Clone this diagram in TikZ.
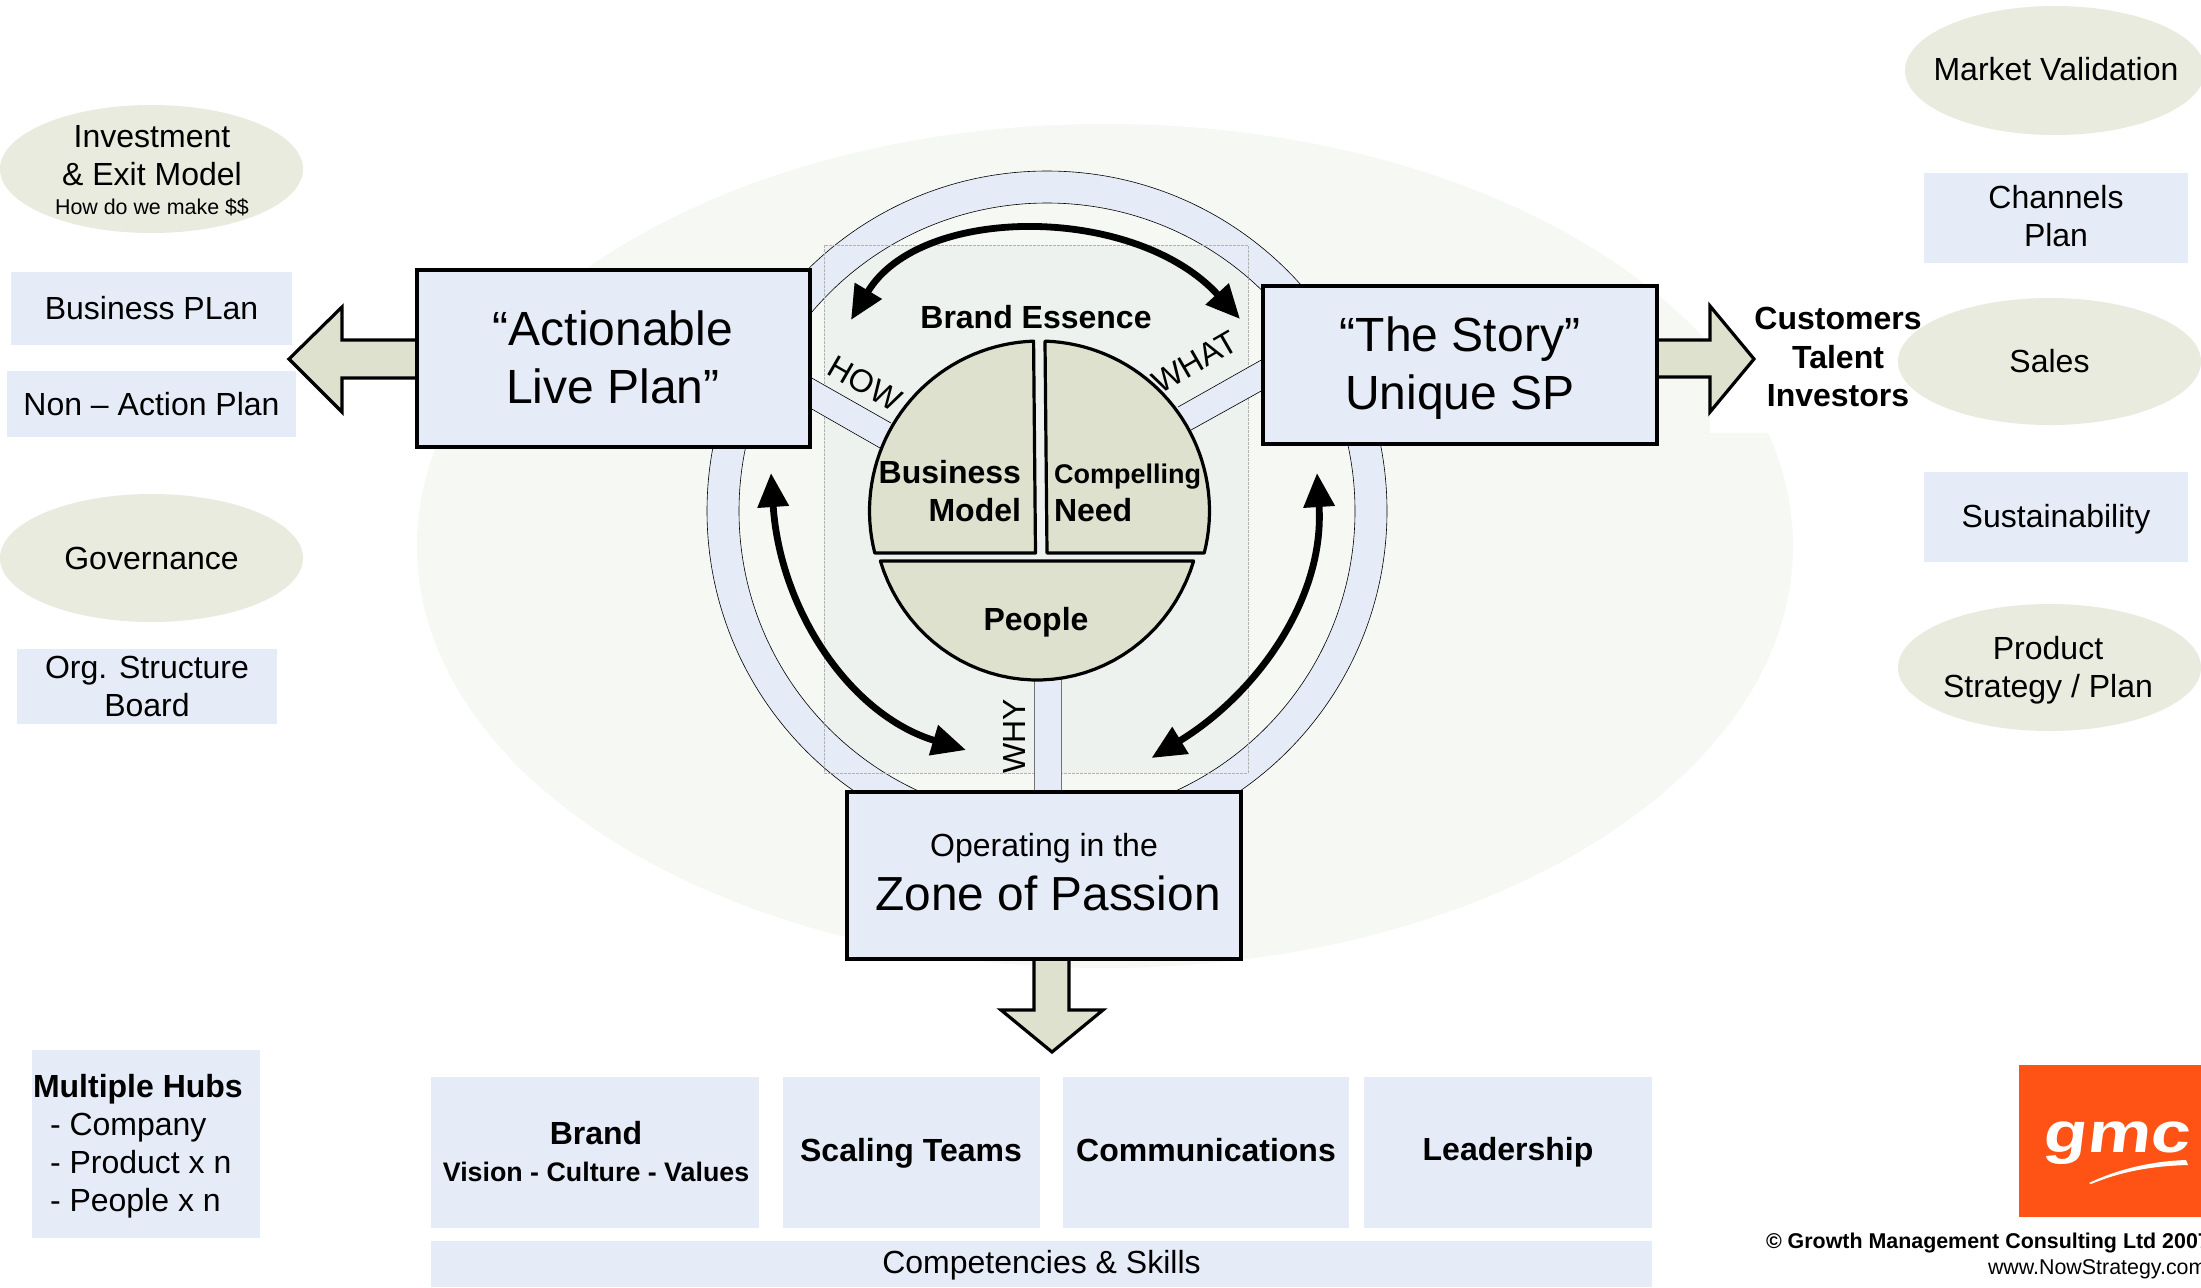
\documentclass[tikz,border=0pt]{standalone}
\usepackage{fontspec}
\setmainfont{Liberation Sans}
\newfontfamily\logofont[FakeStretch=1.25,FakeSlant=0.12]{Liberation Sans}
\usetikzlibrary{shapes.geometric,arrows.meta}
\definecolor{paleblue}{HTML}{E6ECF7}
\definecolor{sage}{HTML}{DDE1CD}
\definecolor{paleoval}{HTML}{E8EBDE}
\definecolor{backoval}{HTML}{F6F8F3}
\definecolor{backrect}{HTML}{EEF2EE}
\definecolor{logoorange}{HTML}{FF5215}
\newcommand\fs[2]{\fontsize{#1}{#2}\selectfont}
\tikzset{
  x=0.5pt,y=-0.5pt,
  span/.code n args={4}{%
    \pgfmathsetmacro\spanw{(#3-#1)*0.5}%
    \pgfmathsetmacro\spanh{(#4-#2)*0.5}%
    \pgfmathsetmacro\spanx{(#1+#3)/2}%
    \pgfmathsetmacro\spany{(#2+#4)/2}%
    \tikzset{at={(\spanx,\spany)},minimum width=\spanw pt,minimum height=\spanh pt}},
  flat/.style={fill=paleblue,draw=none,inner sep=0pt,outer sep=0pt,align=center,font=\fs{16}{19}},
  oval/.style={ellipse,fill=paleoval,draw=none,inner sep=0pt,outer sep=0pt,align=center,font=\fs{16}{19}},
  bigbox/.style={fill=paleblue,draw=black,line width=1.6pt,inner sep=0pt,outer sep=0pt,align=center},
  blockarrow/.style={fill=sage,draw=black,line width=1.6pt,line join=miter},
  pieslice/.style={fill=sage,draw=black,line width=1.6pt,line join=round},
  thinline/.style={draw=black,line width=0.3pt},
  swing/.style={draw=black,line width=3.4pt,{Triangle[length=17pt,width=15pt]}-{Triangle[length=17pt,width=15pt]}},
  label/.style={inner sep=0pt,outer sep=0pt,align=center},
}
\begin{document}
\begin{tikzpicture}
\useasboundingbox (0,0) rectangle (2201,1287);
\fill[white] (0,0) rectangle (2201,1287);
% background
\fill[backoval] (1105,546) ellipse [x radius=688, y radius=422];
\fill[white] (1710,200) rectangle (1900,433);
\fill[backrect] (824,245) rectangle (1248,773);
% ring
\fill[paleblue,even odd rule] (1047,511) circle [radius=340] (1047,511) circle [radius=308];
\draw[thinline] (1047,511) circle [radius=340];
\draw[thinline] (1047,511) circle [radius=308];
\draw[black!30,line width=0.4pt,dash pattern=on 1.5pt off 0.5pt] (824,245) rectangle (1248,773);
% spokes
\fill[paleblue] (810,377) -- (891,423) -- (880,448) -- (810,408) -- cycle;
\draw[thinline] (810,377) -- (891,423) (810,408) -- (880,448);
\fill[paleblue] (1263,359) -- (1178,407) -- (1191,430) -- (1263,390) -- cycle;
\draw[thinline] (1263,359) -- (1178,407) (1263,390) -- (1191,430);
\fill[paleblue] (1034,670) rectangle (1061,792);
\draw[draw=black!55,line width=0.5pt] (1034,670) -- (1034,792) (1061,670) -- (1061,792);
% pie
\draw[pieslice] (1035.5,553) -- (875,553) -- plot[domain=165.7:268,samples=40] ({1039.5+170*cos(\x)},{511+170*sin(\x)}) -- cycle;
\draw[pieslice] (1047,553) -- (1045,342) -- plot[domain=272:374.3,samples=40] ({1039.5+170*cos(\x)},{511+170*sin(\x)}) -- cycle;
\draw[pieslice] (880.3,561) -- (1193.7,561) -- plot[domain=17.2:162.8,samples=40] ({1037+164*cos(\x)},{511+169*sin(\x)}) -- cycle;
% curved arrows
\coordinate (ta) at (851,320); \coordinate (tb) at (1240,319);
\coordinate (la) at (771,473); \coordinate (lb) at (966,750);
\coordinate (ra) at (1317,473); \coordinate (rb) at (1151.5,758);
\draw[swing] (ta) .. controls (920,204) and (1135,204) .. (tb);
\draw[swing] (la) .. controls (780,610) and (850,715) .. (lb);
\draw[swing] (ra) .. controls (1325,600) and (1255,695) .. (rb);
% block arrows
\draw[blockarrow] (417,340) -- (342,340) -- (342,307) -- (289,359) -- (342,412) -- (342,378) -- (417,378);
\draw[blockarrow] (1657,340) -- (1710,340) -- (1710,306) -- (1754,359) -- (1710,412) -- (1710,377) -- (1657,377);
\draw[blockarrow] (1034,959) -- (1034,1010) -- (1001,1010) -- (1052,1052) -- (1103,1010) -- (1069,1010) -- (1069,959);
% big boxes
\node[bigbox,span={417}{270}{810}{447}] (plan) {};
\node[label,font=\fs{24}{29}] (plantext) at (613,357) {“Actionable\\Live Plan”};
\node[bigbox,span={1263}{286}{1657}{444}] (story) {};
\node[label,font=\fs{24}{29}] (storytext) at (1460,368) {“The Story”\\Unique SP};
\node[bigbox,span={847}{792}{1241}{959}] (zone) {};
\node[label,font=\fs{16}{19}] (operating) at (1044,848) {Operating in the};
\node[label,font=\fs{23.9}{29}] (passion) at (1048,893) {Zone of Passion};
% centre texts
\node[label,font=\bfseries\fs{16}{19}] (essence) at (1036,317) {Brand Essence};
\node[label,anchor=east,align=right,font=\bfseries\fs{16}{19}] (bm) at (1021,491) {Business\\Model};
\node[label,anchor=west,align=left,font=\bfseries\fs{16}{19}] (need) at (1054,493) {{\fs{13.5}{19}\selectfont Compelling}\\Need};
\node[label,font=\bfseries\fs{16}{19}] (people) at (1036,622) {People};
\node[label,font=\fs{16}{19},rotate=-30] (how) at (865,383) {HOW};
\node[label,font=\fs{16}{19},rotate=30] (what) at (1195,362) {WHAT};
\node[label,font=\fs{16}{19},rotate=90] (why) at (1014,736) {WHY};
\node[label,font=\bfseries\fs{16}{19.3}] (aud) at (1838,357) {Customers\\Talent\\Investors};
% left column
\node[oval,span={0}{105}{303}{233}] (invest) {};
\node[label,font=\fs{16}{19}] (investtext) at (152,156) {Investment\\\& Exit Model};
\node[label,font=\fs{10.7}{13}] (makemoney) at (152,207) {How do we make \$\$};
\node[flat,span={11}{272}{292}{345}] (bizplan) {Business PLan};
\node[flat,span={7}{371}{296}{437}] (nonaction) {Non – Action Plan};
\node[oval,span={0}{494}{303}{622}] (gov) {Governance};
\node[flat,span={17}{649}{277}{724}] (org) {Org. Structure\\Board};
% right column
\node[oval,span={1905}{6}{2205}{135}] (market) {};
\node[label,font=\fs{16}{19}] (markettext) at (2056,69) {Market Validation};
\node[flat,span={1924}{173}{2188}{263}] (channels) {};
\node[label,font=\fs{16}{19}] (channelstext) at (2056,216) {Channels\\Plan};
\node[oval,span={1898}{298}{2201}{425}] (sales) {Sales};
\node[flat,span={1924}{472}{2188}{562}] (sustain) {};
\node[label,font=\fs{16}{19}] (sustaintext) at (2056,519) {Sustainability};
\node[oval,span={1898}{604}{2201}{731}] (product) {};
\node[label,font=\fs{16}{19}] (producttext) at (2048,670) {Product\\Strategy / Plan};
% bottom row
\node[flat,span={32}{1050}{260}{1238}] (hubbox) {};
\node[label,anchor=west,align=left,font=\fs{16}{19}] (hubs) at (33,1146) {\textbf{Multiple Hubs}\\\hspace{8.5pt}- Company\\\hspace{8.5pt}- Product x n\\\hspace{8.5pt}- People x n};
\node[flat,span={431}{1077}{759}{1228}] (brand) {};
\node[label,font=\bfseries\fs{16}{18.5}] (brandtext) at (596,1152) {Brand\\{\fs{13.4}{17}\selectfont Vision - Culture - Values}};
\node[flat,span={783}{1077}{1040}{1228}] (teams) {};
\node[label,font=\bfseries\fs{16}{19}] (teamstext) at (911,1153) {Scaling Teams};
\node[flat,span={1063}{1077}{1349}{1228}] (comms) {};
\node[label,font=\bfseries\fs{16}{19}] (commstext) at (1206,1150) {Communications};
\node[flat,span={1364}{1077}{1652}{1228}] (lead) {};
\node[label,font=\bfseries\fs{16}{19}] (leadtext) at (1508,1152) {Leadership};
\node[flat,span={431}{1241}{1652}{1287}] (skills) {};
\node[label,font=\fs{16}{19}] (skillstext) at (1041.5,1265) {Competencies \& Skills};
% logo
\node[fill=logoorange,draw=none,inner sep=0pt,outer sep=0pt,span={2019}{1065}{2201}{1217}] (logo) {};
\node[label,anchor=base,text=white,font=\logofont\bfseries\fs{28.5}{30}] (gmc) at (2116,1152) {gmc};
\fill[white] (2089,1183) .. controls (2120,1168) and (2155,1161) .. (2186,1160) -- (2188,1165) .. controls (2150,1166) and (2120,1172) .. (2091,1184) -- cycle;
\node[label,anchor=base west,font=\bfseries\fs{10.7}{13}] (copy) at (1766,1248) {© Growth Management Consulting Ltd 2007};
\node[label,anchor=base west,font=\fs{10.7}{13}] (web) at (1988,1274) {www.NowStrategy.com};
\end{tikzpicture}
\end{document}
